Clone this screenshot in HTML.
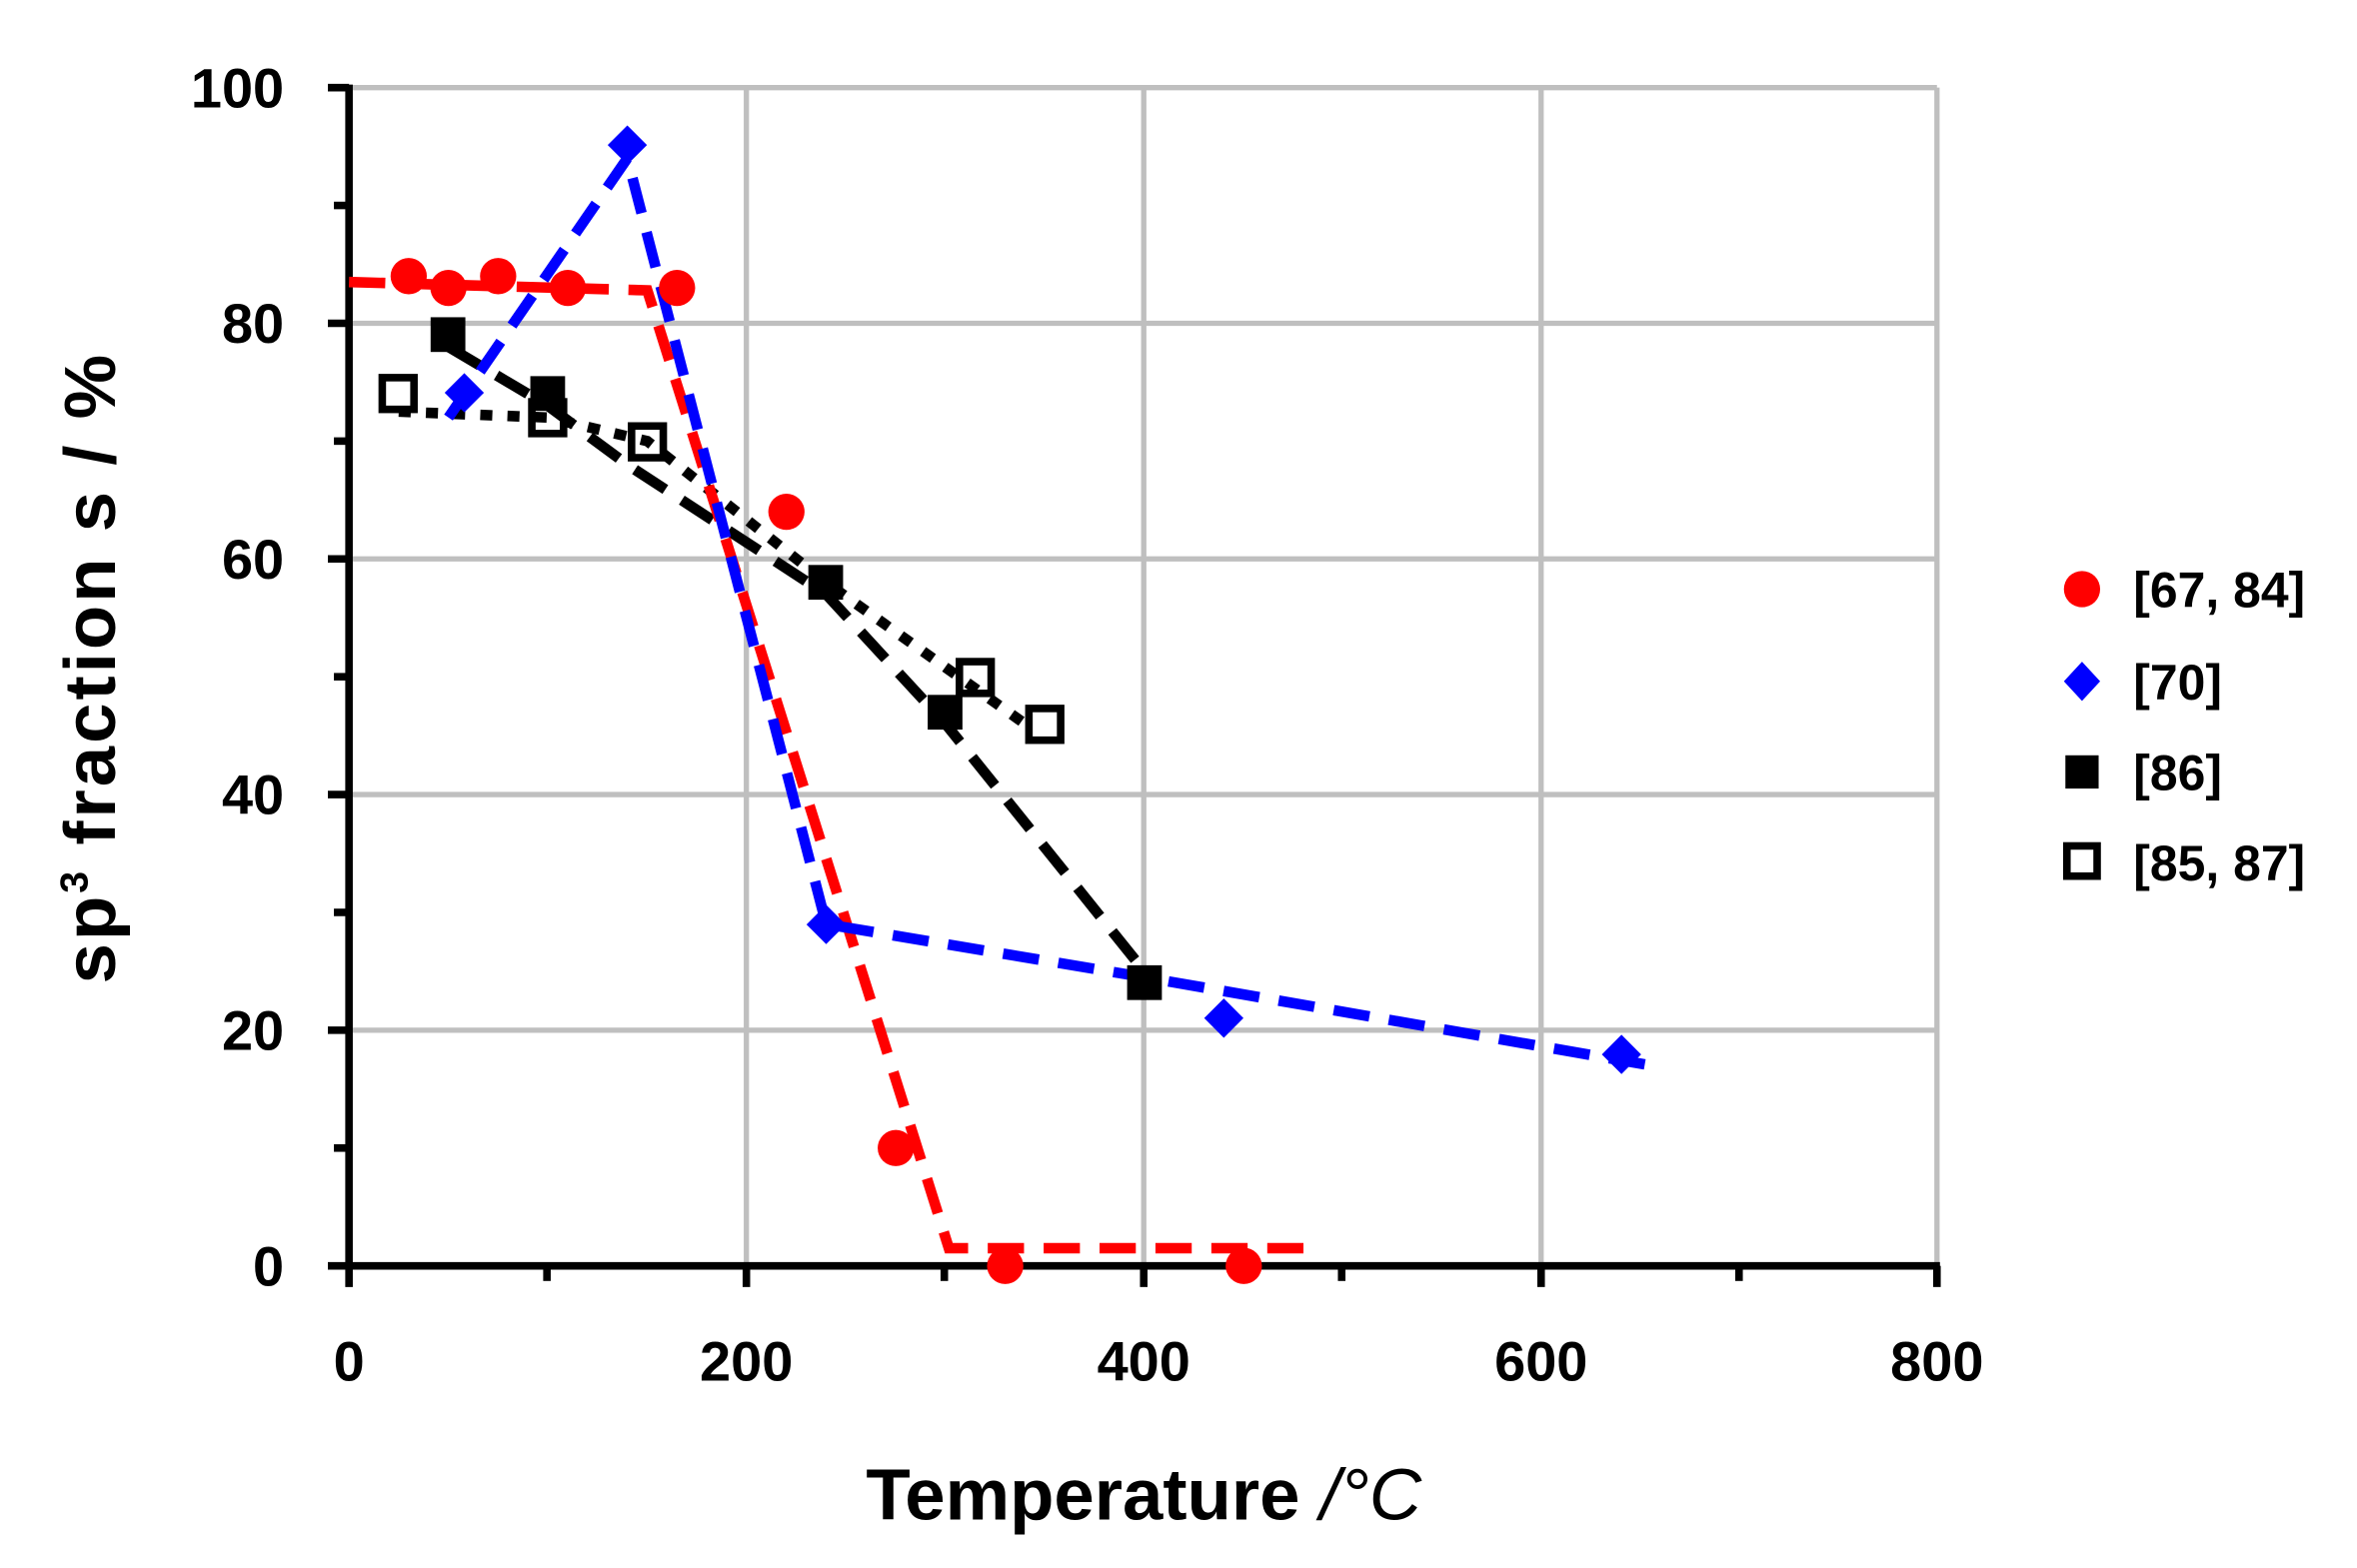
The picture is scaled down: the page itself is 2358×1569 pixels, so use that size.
<!DOCTYPE html>
<html><head><style>html,body{margin:0;padding:0;background:#fff}svg{display:block}</style></head>
<body>
<svg width="2358" height="1569" viewBox="0 0 1560 1038" preserveAspectRatio="none" xmlns="http://www.w3.org/2000/svg" font-family="Liberation Sans, sans-serif" font-weight="bold">
<rect width="1560" height="1038" fill="#fff"/>
<g stroke="#bfbfbf" stroke-width="3.5">
<line x1="231" y1="58" x2="1282" y2="58"/><line x1="231" y1="214" x2="1282" y2="214"/><line x1="231" y1="370" x2="1282" y2="370"/><line x1="231" y1="526" x2="1282" y2="526"/><line x1="231" y1="682" x2="1282" y2="682"/>
<line x1="494" y1="58" x2="494" y2="838"/><line x1="757" y1="58" x2="757" y2="838"/><line x1="1020" y1="58" x2="1020" y2="838"/><line x1="1282" y1="58" x2="1282" y2="838"/>
</g>
<g stroke="#000" stroke-width="5">
<line x1="231" y1="56" x2="231" y2="852"/><line x1="217" y1="838" x2="1284" y2="838"/>
<line x1="217" y1="58" x2="231" y2="58"/><line x1="221" y1="136" x2="231" y2="136"/><line x1="217" y1="214" x2="231" y2="214"/><line x1="221" y1="292" x2="231" y2="292"/><line x1="217" y1="370" x2="231" y2="370"/><line x1="221" y1="448" x2="231" y2="448"/><line x1="217" y1="526" x2="231" y2="526"/><line x1="221" y1="604" x2="231" y2="604"/><line x1="217" y1="682" x2="231" y2="682"/><line x1="221" y1="760" x2="231" y2="760"/>
<line x1="362" y1="838" x2="362" y2="848"/><line x1="494" y1="838" x2="494" y2="852"/><line x1="625" y1="838" x2="625" y2="848"/><line x1="757" y1="838" x2="757" y2="852"/><line x1="888" y1="838" x2="888" y2="848"/><line x1="1020" y1="838" x2="1020" y2="852"/><line x1="1151" y1="838" x2="1151" y2="848"/><line x1="1282" y1="838" x2="1282" y2="852"/>
</g>
<g font-size="37" text-anchor="end">
<text x="188" y="71">100</text><text x="188" y="227">80</text><text x="188" y="383">60</text><text x="188" y="539">40</text><text x="188" y="695">20</text><text x="188" y="851">0</text>
</g>
<g font-size="37" text-anchor="middle">
<text x="231" y="914">0</text><text x="494" y="914">200</text><text x="757" y="914">400</text><text x="1020" y="914">600</text><text x="1282" y="914">800</text>
</g>
<text x="757" y="1006" font-size="48" text-anchor="middle">Temperature <tspan font-style="italic" font-weight="normal">/°C</tspan></text>
<text transform="translate(76,442) rotate(-90)" font-size="48" text-anchor="middle" letter-spacing="2">sp<tspan font-size="26" dy="-18">3</tspan><tspan dy="18"> fraction s  / %</tspan></text>
<g fill="none" stroke-width="7">
<polyline stroke="#000" stroke-dasharray="8,10" points="263.9,272.5 362.6,276.4 428.4,292 546.8,385.6 645.5,455.8 678.4,479.2"/>
<polyline stroke="#000" stroke-dasharray="24,13" points="296.8,229.6 362.6,268.6 415.2,307.6 546.8,393.4 625.8,479.2 757.4,643"/>
<polyline stroke="#ff0000" stroke-dasharray="24,13" points="231,186.7 428.4,192.2 628,826.3 862.7,826.3"/>
<polyline stroke="#0000ff" stroke-dasharray="24,13" points="296.8,276.4 415.2,104.8 546.8,611.8 757.4,646.9 1093,705.4"/>
</g>
<g fill="#ff0000">
<circle cx="270.5" cy="182.8" r="12"/><circle cx="296.8" cy="190.6" r="12"/><circle cx="329.7" cy="182.8" r="12"/><circle cx="375.8" cy="190.6" r="12"/><circle cx="448.1" cy="190.6" r="12"/><circle cx="520.5" cy="338.8" r="12"/><circle cx="592.9" cy="760" r="12"/><circle cx="665.3" cy="838" r="12"/><circle cx="823.2" cy="838" r="12"/>
</g>
<g fill="#0000ff">
<path d="M307.3,247 l13,13 -13,13 -13,-13z"/><path d="M415.2,83 l13,13 -13,13 -13,-13z"/><path d="M546.8,599 l13,13 -13,13 -13,-13z"/><path d="M810,661 l13,13 -13,13 -13,-13z"/><path d="M1073.2,685 l13,13 -13,13 -13,-13z"/>
</g>
<g fill="#000">
<rect x="285" y="210" width="23" height="23"/><rect x="351" y="249" width="23" height="23"/><rect x="535" y="374" width="23" height="23"/><rect x="614" y="460" width="23" height="23"/><rect x="746" y="639" width="23" height="23"/>
</g>
<g fill="none" stroke="#000" stroke-width="5">
<rect x="253" y="250" width="21" height="21"/><rect x="352" y="266" width="21" height="21"/><rect x="418" y="282" width="21" height="21"/><rect x="635" y="438" width="21" height="21"/><rect x="681" y="469" width="21" height="21"/>
</g>
<circle cx="1378" cy="390" r="12" fill="#ff0000"/>
<path d="M1378,438 l12,13 -12,13 -12,-13z" fill="#0000ff"/>
<rect x="1367" y="500" width="22" height="22" fill="#000"/>
<rect x="1368" y="560" width="20" height="20" fill="none" stroke="#000" stroke-width="5"/>
<g font-size="33">
<text x="1412" y="402">[67, 84]</text><text x="1412" y="463">[70]</text><text x="1412" y="523">[86]</text><text x="1412" y="583">[85, 87]</text>
</g>
</svg>
</body></html>
